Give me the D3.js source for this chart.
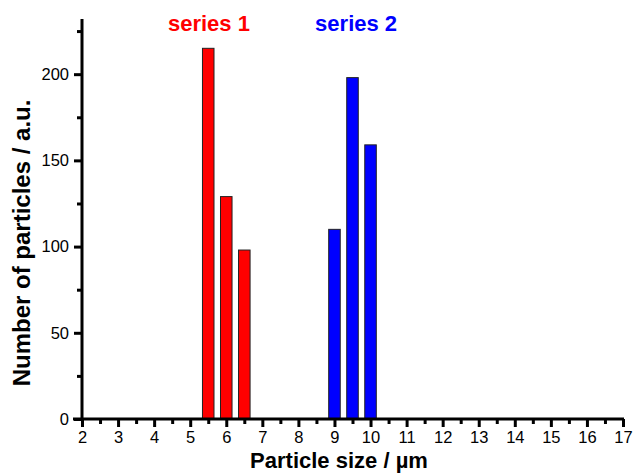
<!DOCTYPE html>
<html>
<head>
<meta charset="utf-8">
<script src="https://cdn.jsdelivr.net/npm/d3@7/dist/d3.min.js"></script>
<style>
  body { margin: 0; background: #fff; }
  text { font-family: "Liberation Sans", Arial, sans-serif; }
</style>
</head>
<body>
<script>
// bar data
var sizes1 = [5.5, 6.0, 6.5];
var counts1 = [215, 129, 98];
var sizes2 = [9.0, 9.5, 10.0];
var counts2 = [110, 198, 159];
var seriesNames = ["series 1", "series 2"];
var labelPos = [5.52, 9.6];   // x (in µm) where the series names sit
var xTicks = [2, 3, 4, 5, 6, 7, 8, 9, 10, 11, 12, 13, 14, 15, 16, 17];
var yTicks = [0, 50, 100, 150, 200];

var W = 633, H = 473;
var margin = {top: 19, right: 10, bottom: 54, left: 82};

var svg = d3.select('body').append('svg')
    .attr('width', W).attr('height', H);

var xscale = d3.scaleLinear().domain([2, 17]).range([margin.left, 623]);
var yscale = d3.scaleLinear().domain([0, 232]).range([H - margin.bottom, margin.top]);

var barW = xscale(2.32) - xscale(2);

function drawBars(xs, ys, color) {
    svg.append('g').selectAll('rect')
        .data(ys)
        .enter().append('rect')
        .attr('x', function (d, i) { return xscale(xs[i]) - barW / 2; })
        .attr('y', function (d) { return yscale(d); })
        .attr('width', barW)
        .attr('height', function (d) { return yscale(0) - yscale(d); })
        .attr('fill', color)
        .attr('stroke', '#222')
        .attr('stroke-width', 1);
}
drawBars(sizes1, counts1, '#ff0000');
drawBars(sizes2, counts2, '#0000ff');

// minor ticks
var xMinor = d3.range(2.5, 17, 1);
var yMinor = d3.range(25, 232, 50);

var xAxis = svg.append('g')
    .attr('transform', 'translate(0,' + yscale(0) + ')');
xAxis.append('g').call(d3.axisBottom(xscale).tickValues(xMinor).tickSize(5).tickFormat(''));
xAxis.append('g').call(d3.axisBottom(xscale).tickValues(xTicks).tickSize(8).tickPadding(4).tickFormat(d3.format('d')));

var yAxis = svg.append('g')
    .attr('transform', 'translate(' + xscale(2) + ',0)');
yAxis.append('g').call(d3.axisLeft(yscale).tickValues(yMinor).tickSize(5).tickFormat(''));
yAxis.append('g').call(d3.axisLeft(yscale).tickValues(yTicks).tickSize(8).tickPadding(5).tickFormat(d3.format('d')));

svg.selectAll('.domain').remove();
svg.selectAll('.tick line').attr('stroke', '#000').attr('stroke-width', 3);
svg.selectAll('.tick text').attr('font-size', 16.5).attr('fill', '#000')
    .style('font-family', '"Liberation Sans", Arial, sans-serif');

// axis lines drawn by hand so they don't have the end caps
svg.append('line')
    .attr('x1', xscale(2) - 9).attr('x2', xscale(17) + 1)
    .attr('y1', yscale(0)).attr('y2', yscale(0))
    .attr('stroke', '#000').attr('stroke-width', 3);
svg.append('line')
    .attr('x1', xscale(2)).attr('x2', xscale(2))
    .attr('y1', yscale(0) + 1).attr('y2', yscale(232))
    .attr('stroke', '#000').attr('stroke-width', 3);

// series labels
svg.append('text')
    .attr('x', xscale(labelPos[0])).attr('y', 31)
    .attr('text-anchor', 'middle')
    .attr('font-size', 22).attr('font-weight', 'bold')
    .attr('fill', '#ff0000')
    .text(seriesNames[0]);
svg.append('text')
    .attr('x', xscale(labelPos[1])).attr('y', 31)
    .attr('text-anchor', 'middle')
    .attr('font-size', 22).attr('font-weight', 'bold')
    .attr('fill', '#0000ff')
    .text(seriesNames[1]);

// axis titles
svg.append('text')
    .attr('x', 339).attr('y', 468)
    .attr('text-anchor', 'middle')
    .attr('font-size', 22).attr('font-weight', 'bold')
    .text('Particle size / \u00b5m');
svg.append('text')
    .attr('transform', 'translate(30,243) rotate(-90)')
    .attr('text-anchor', 'middle')
    .attr('font-size', 24).attr('font-weight', 'bold')
    .text('Number of particles / a.u.');
</script>
</body>
</html>
